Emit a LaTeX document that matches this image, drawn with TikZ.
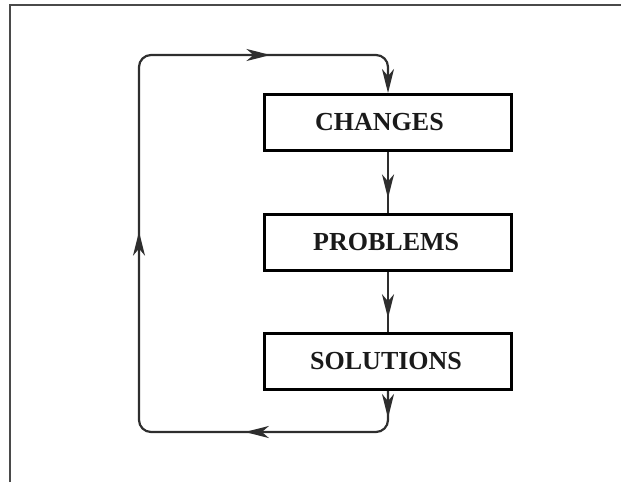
\documentclass[tikz,border=0pt]{standalone}
\usepackage{fontspec}
\setmainfont{Liberation Serif}
\usetikzlibrary{arrows.meta,decorations.markings}
\definecolor{ink}{HTML}{1A1A1A}
\definecolor{wire}{HTML}{2E2E2E}
\definecolor{framegray}{HTML}{4A4A4A}
\tikzset{flowtip/.tip={Stealth[length=24pt,width=12pt,inset=7pt]}}
\begin{document}
\begin{tikzpicture}[x=1pt,y=-1pt,
  box/.style={draw=black,line width=3pt,minimum width=247pt,minimum height=56pt,inner sep=0pt},
  lbl/.style={anchor=west,inner sep=0pt,text=ink,font=\bfseries\fontsize{26}{30}\selectfont},
  conn/.style={draw=wire,line width=2.2pt},
  midtip/.style={postaction={decorate},decoration={markings,
     mark=at position #1 with {\arrow[wire]{flowtip}}}}
]
\useasboundingbox (0,0) rectangle (621,482);
% outer frame (top and left edges)
\draw[framegray,line width=2.4pt] (10,482) -- (10,5) -- (621,5);

% the three stages
\node[box] (chg) at (388,122.5) {};
\node[box] (prb) at (388,242.5) {};
\node[box] (sol) at (388,361.5) {};
\node[lbl] (chgL) at (315,122.5) {CHANGES};
\node[lbl] (prbL) at (313,242.5) {PROBLEMS};
\node[lbl] (solL) at (310,361.5) {SOLUTIONS};

% downward flow between stages
\draw[conn,midtip=0.76] (chg.south) -- (prb.north);
\draw[conn,midtip=0.77] (prb.south) -- (sol.north);

% feedback loop back to the top
\coordinate (br) at (388,432);
\coordinate (bl) at (139,432);
\coordinate (tl) at (139,55);
\coordinate (tr) at (388,55);
\draw[conn,rounded corners=12pt,-{flowtip},
  postaction={decorate},
  decoration={markings,
    mark=at position 27pt with {\arrow[wire]{flowtip}},
    mark=at position 179pt with {\arrow[wire]{flowtip}},
    mark=at position 480pt with {\arrow[wire]{flowtip}},
    mark=at position 783pt with {\arrow[wire]{flowtip}}}]
  (sol.south) -- (br) -- (bl) -- (tl) -- (tr) -- (chg.north);
\end{tikzpicture}
\end{document}
